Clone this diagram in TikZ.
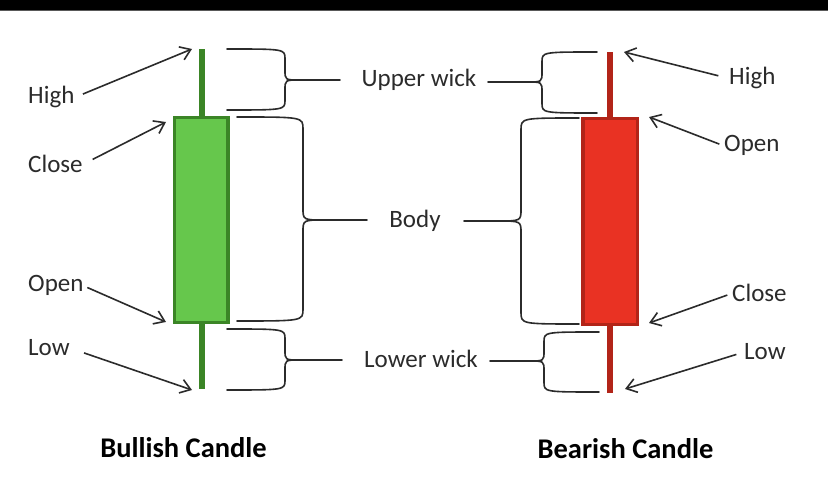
\documentclass[tikz,border=0pt]{standalone}
\usepackage{fontspec}
\setmainfont{Carlito}
\usetikzlibrary{arrows.meta}
\definecolor{gfill}{HTML}{66C74C}
\definecolor{gdark}{HTML}{3B8526}
\definecolor{rfill}{HTML}{E93223}
\definecolor{rdark}{HTML}{B22418}
\definecolor{inkc}{HTML}{2B2B2B}
\newcommand\candlebracepath[8]{%
  (#1,#2) .. controls (#4,#2) and (#4,#2) .. (#4,#2+#8) -- (#4,#6-#8)
  .. controls (#4,#6) and (#4,#6) .. (#5,#6) -- (#7,#6)
  (#5,#6) .. controls (#4,#6) and (#4,#6) .. (#4,#6+#8) -- (#4,#3-#8)
  .. controls (#4,#3) and (#4,#3) .. (#1,#3)}
\begin{document}
\begin{tikzpicture}[x=1pt,y=-1pt,
  lbl/.style={inner sep=0pt,font=\fontsize{25}{28}\selectfont,text=inkc},
  ttl/.style={inner sep=0pt,font=\fontsize{28.5}{32}\selectfont\bfseries,text=black},
  arr/.style={draw=inkc,line width=1.6pt,-{Straight Barb[length=10pt,width=14pt,line width=1.6pt]}},
  brc/.style={draw=inkc,line width=1.6pt,line cap=round}]
\useasboundingbox (0,0) rectangle (828,486);
\fill[white] (0,0) rectangle (828,486);
\fill[black] (0,0) rectangle (828,10);
\fill[gray!70!black] (0,10) rectangle (828,11.5);
% bullish candle
\fill[gdark] (198.5,49) rectangle (204.5,389);
\draw[gdark,fill=gfill,line width=3.5pt] (174.5,117.5) rectangle (228,322.5);
% bearish candle
\fill[rdark] (607,52) rectangle (613,393);
\draw[rdark,fill=rfill,line width=3.5pt] (583,118.5) rectangle (637.5,324.5);
% coordinates
\coordinate (ghigh) at (192,49);
\coordinate (gclose) at (166,122);
\coordinate (gopen) at (166,322);
\coordinate (glow) at (192,390);
\coordinate (rhigh) at (624,52);
\coordinate (ropen) at (649,117);
\coordinate (rclose) at (649,323);
\coordinate (rlow) at (625,389);
% labels left
\node[lbl,anchor=base west] (lhigh) at (28,104) {High};
\node[lbl,anchor=base west] (lclose) at (28,173) {Close};
\node[lbl,anchor=base west] (lopen) at (28,292) {Open};
\node[lbl,anchor=base west] (llow) at (28,356) {Low};
% labels right
\node[lbl,anchor=base west] (rhighl) at (729,85) {High};
\node[lbl,anchor=base west] (ropenl) at (724,152) {Open};
\node[lbl,anchor=base west] (rclosel) at (732,302) {Close};
\node[lbl,anchor=base west] (rlowl) at (744,360) {Low};
% middle
\node[lbl,anchor=base] (upper) at (419,87) {Upper wick};
\node[lbl,anchor=base] (body) at (415,228) {Body};
\node[lbl,anchor=base] (lower) at (421,368) {Lower wick};
% titles
\node[ttl,anchor=base] (bull) at (183.5,457) {Bullish Candle};
\node[ttl,anchor=base] (bear) at (625.5,459) {Bearish Candle};
% arrows
\draw[arr,shorten <=9pt] (lhigh.east) -- (ghigh);
\draw[arr,shorten <=11pt] (lclose.east) -- (gclose);
\draw[arr,shorten <=4pt] (lopen.east) -- (gopen);
\draw[arr,shorten <=15pt] (llow.east) -- (glow);
\draw[arr,shorten <=11pt] (rhighl.west) -- (rhigh);
\draw[arr,shorten <=5pt] (ropenl.west) -- (ropen);
\draw[arr,shorten <=5pt] (rclosel.west) -- (rclose);
\draw[arr,shorten <=8pt] (rlowl.west) -- (rlow);
% braces
\draw[brc] \candlebracepath{227}{49}{110}{285}{300}{80}{340}{10};
\draw[brc] \candlebracepath{237}{117}{321}{303}{325}{220}{367}{12};
\draw[brc] \candlebracepath{227}{329}{390}{285}{300}{360}{342}{10};
\draw[brc] \candlebracepath{597}{52}{113}{542}{527}{82}{488}{10};
\draw[brc] \candlebracepath{579}{118}{324}{521}{497}{221}{464}{12};
\draw[brc] \candlebracepath{599}{332}{392}{544}{529}{361}{490}{10};
\end{tikzpicture}
\end{document}
